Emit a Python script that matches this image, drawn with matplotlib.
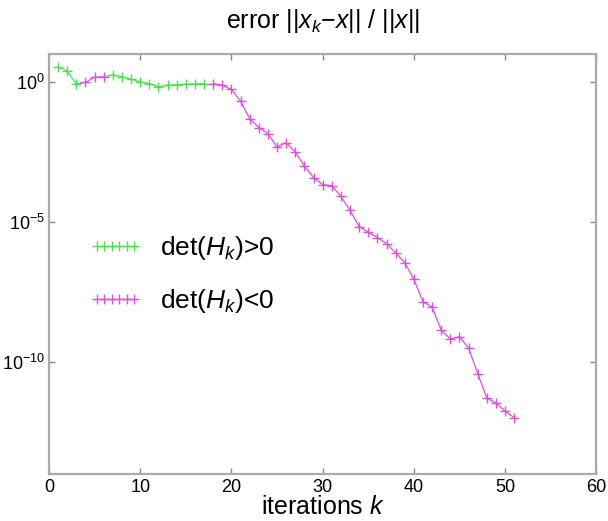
import matplotlib
matplotlib.use("Agg")
import matplotlib.pyplot as plt
from matplotlib.lines import Line2D

plt.rcParams['font.family'] = ['Liberation Sans', 'DejaVu Sans']
plt.rcParams['mathtext.fontset'] = 'custom'
plt.rcParams['mathtext.rm'] = 'Liberation Sans'
plt.rcParams['mathtext.it'] = 'Liberation Sans:italic'
plt.rcParams['mathtext.bf'] = 'Liberation Sans:bold'

# data
iterations = list(range(1, 52))
error = [3.55, 2.57, 0.85, 1.0, 1.51, 1.58, 1.82, 1.58, 1.29, 1.02,
         0.89, 0.69, 0.78, 0.81, 0.85, 0.87, 0.89, 0.89, 0.78, 0.56,
         0.21, 0.050, 0.024, 0.0145, 4.8e-3, 6.9e-3, 3.2e-3, 1.0e-3, 3.9e-4, 2.2e-4,
         2.0e-4, 8.3e-5, 2.6e-5, 6.9e-6, 4.3e-6, 2.8e-6, 1.7e-6, 7.9e-7, 3.5e-7, 8.9e-8,
         1.4e-8, 9.1e-9, 1.35e-9, 6.6e-10, 7.9e-10, 3.1e-10, 3.8e-11, 5.0e-12, 3.4e-12, 1.7e-12,
         1.0e-12]
det_sign = [1, 1, 1, -1, -1, -1, 1, 1, 1, 1,
            1, 1, 1, 1, 1, 1, 1, -1, -1, -1,
            -1, -1, -1, -1, -1, -1, -1, -1, -1, -1,
            -1, -1, -1, -1, -1, -1, -1, -1, -1, -1,
            -1, -1, -1, -1, -1, -1, -1, -1, -1, -1,
            -1]
y_ticks = [1e0, 1e-5, 1e-10]
x_ticks = [0, 10, 20, 30, 40, 50, 60]
labels = [r'det($H_k$)>0', r'det($H_k$)<0']

GREEN = '#4fe04f'
MAGENTA = '#dc50dc'
col = {1: GREEN, -1: MAGENTA}

fig = plt.figure(figsize=(6.08, 5.21), dpi=100)
ax = fig.add_axes([0.0806, 0.0908, 0.9002, 0.805])

for i in range(len(iterations) - 1):
    ax.plot(iterations[i:i + 2], error[i:i + 2], color=col[det_sign[i + 1]], lw=0.9)
for s in (1, -1):
    xs = [k for k, d in zip(iterations, det_sign) if d == s]
    ys = [e for e, d in zip(error, det_sign) if d == s]
    ax.plot(xs, ys, linestyle='none', marker='+', color=col[s], ms=7, mew=1.0)

ax.set_yscale('log')
ax.set_ylim(1e-14, 1e1)
ax.set_xlim(0, 60)
ax.set_yticks(y_ticks)
ax.yaxis.set_minor_locator(matplotlib.ticker.NullLocator())
ax.set_xticks(x_ticks)

for sp in ax.spines.values():
    sp.set_color('#aaaaaa')
    sp.set_linewidth(1.6)
ax.tick_params(which='major', direction='in', length=4, width=1, color='#888888',
               top=True, right=True, labelsize=13, labelcolor='black')
ax.tick_params(axis='x', pad=3.5)
ax.tick_params(axis='y', pad=3)

ax.set_title(r'error ||$x_k$$-$$x$|| / ||$x$||', fontsize=18, pad=19)
ax.set_xlabel(r'iterations $k$', fontsize=18, va='bottom')
ax.xaxis.set_label_coords(0.5, -0.1085)

handles = [Line2D([], [], color=GREEN, marker='+', lw=0.9, ms=7, mew=1.0),
           Line2D([], [], color=MAGENTA, marker='+', lw=0.9, ms=7, mew=1.0)]
ax.legend(handles, labels, loc='upper left', bbox_to_anchor=(0.03, 0.628),
          frameon=False, numpoints=6, handlelength=2.0, fontsize=19,
          labelspacing=0.95, handletextpad=0.7)

fig.savefig('out.png', dpi=100)
